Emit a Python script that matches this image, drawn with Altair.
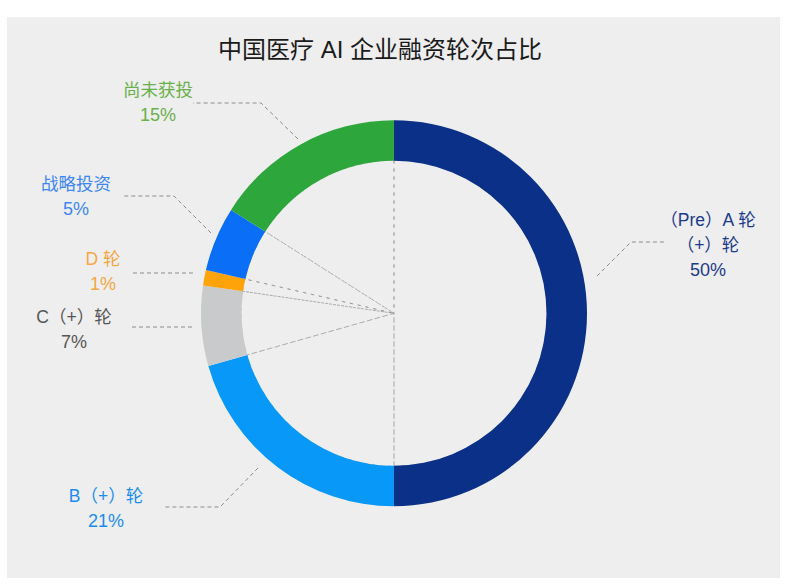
import altair as alt
import pandas as pd

# ---- data ----
categories = ["（Pre）A 轮（+）轮", "B（+）轮", "C（+）轮", "D 轮", "战略投资", "尚未获投"]
shares = [50.0, 20.6, 6.7, 1.3, 5.4, 16.0]
pct_labels = ["50%", "21%", "7%", "1%", "5%", "15%"]
name_lines = [["（Pre）A 轮", "（+）轮"], ["B（+）轮"], ["C（+）轮"], ["D 轮"], ["战略投资"], ["尚未获投"]]

# ---- styles ----
slice_colors = ["#0b3087", "#0898f8", "#c9cacb", "#ffa30a", "#0a6ff6", "#2da63b"]
label_colors = ["#1b3a8c", "#1a8cf0", "#555555", "#f5a742", "#3d86f5", "#6ab04c"]
FONT = "Liberation Sans, Noto Sans CJK SC"

# ---- layout (page pixels) ----
OX, OY = 7, 17
W, H = 773, 561
CX, CY = 394 - OX, 313.3 - OY
R_OUT, R_IN = 193, 153
label_x = [708, 106, 74, 103, 76, 158]
label_y = [221, 497, 318, 260, 185, 91]
LINE_GAP = 25
leaders = [
    [(597, 276), (631, 242), (667, 242)],
    [(258, 468), (220, 507), (163, 507)],
    [(192, 327), (131, 327)],
    [(193, 273), (132, 273)],
    [(211, 233), (174, 196), (123, 196)],
    [(298, 139), (261, 103), (193, 103)],
]

pie_df = pd.DataFrame({"cat": categories, "value": shares, "idx": list(range(len(categories)))})

text_rows = []
for i, cat in enumerate(categories):
    lines = name_lines[i] + [pct_labels[i]]
    for j, t in enumerate(lines):
        text_rows.append({"t": t, "x": label_x[i] - OX, "y": label_y[i] + j * LINE_GAP - OY,
                          "col": label_colors[i], "size": 18 if j == len(lines) - 1 else 17.5})
text_df = pd.DataFrame(text_rows)

line_rows = []
for i, pts in enumerate(leaders):
    for k, (px, py) in enumerate(pts):
        line_rows.append({"seg": i, "k": k, "x": px - OX, "y": py - OY})
line_df = pd.DataFrame(line_rows)

title_df = pd.DataFrame({"t": ["中国医疗 AI 企业融资轮次占比"], "x": [380 - OX], "y": [51 - OY]})

radial = alt.Chart(pie_df).mark_arc(
    radius=R_IN, fillOpacity=0, stroke="#9a9a9a", strokeWidth=0.8, strokeDash=[3, 5]
).encode(
    theta=alt.Theta("value:Q", stack=True),
    order=alt.Order("idx:Q"),
    x=alt.value(CX), y=alt.value(CY),
)

donut = alt.Chart(pie_df).mark_arc(outerRadius=R_OUT, innerRadius=R_IN - 0.5).encode(
    theta=alt.Theta("value:Q", stack=True),
    order=alt.Order("idx:Q"),
    color=alt.Color("cat:N", scale=alt.Scale(domain=categories, range=slice_colors), legend=None),
    x=alt.value(CX), y=alt.value(CY),
)

leader = alt.Chart(line_df).mark_line(
    stroke="#8c8c8c", strokeWidth=1, strokeDash=[4, 3]
).encode(
    x=alt.X("x:Q", scale=None, axis=None),
    y=alt.Y("y:Q", scale=None, axis=None),
    detail="seg:N",
    order="k:Q",
)

labels = alt.Chart(text_df).mark_text(
    font=FONT, baseline="middle", align="center"
).encode(
    x=alt.X("x:Q", scale=None, axis=None),
    y=alt.Y("y:Q", scale=None, axis=None),
    text="t:N",
    color=alt.Color("col:N", scale=None),
    size=alt.Size("size:Q", scale=None),
)

title = alt.Chart(title_df).mark_text(
    font=FONT, fontSize=24, baseline="middle", align="center", color="#1a1a1a"
).encode(
    x=alt.X("x:Q", scale=None, axis=None),
    y=alt.Y("y:Q", scale=None, axis=None),
    text="t:N",
)

chart = alt.layer(radial, donut, leader, labels, title).resolve_scale(
    color="independent"
).properties(
    width=W, height=H,
    autosize=alt.AutoSizeParams(type="none"),
    padding={"left": OX, "top": OY, "right": 790 - OX - W, "bottom": 586 - OY - H},
    background="#ffffff",
).configure_view(fill="#eeeeee", stroke=None)

chart.save("out.html", embed_options={"renderer": "svg", "actions": False})
